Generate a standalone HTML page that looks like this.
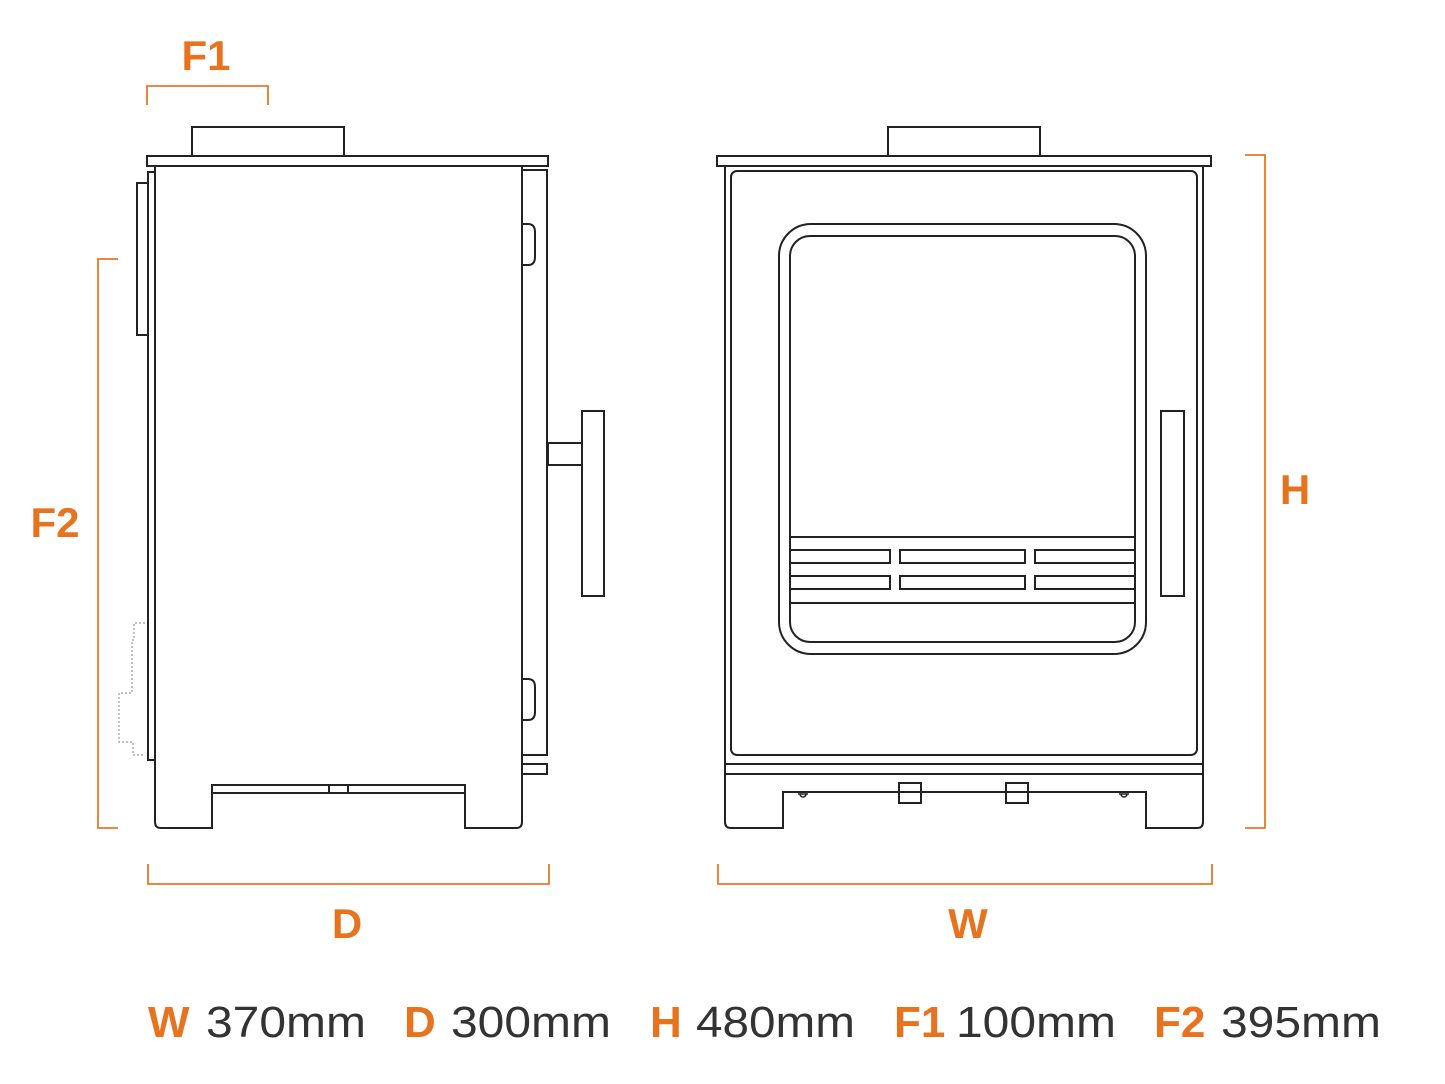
<!DOCTYPE html>
<html><head><style>body{margin:0;background:#fff}svg{display:block}</style></head><body>
<svg width="1445" height="1084" viewBox="0 0 1445 1084" xmlns="http://www.w3.org/2000/svg" font-family="Liberation Sans, sans-serif">
<g fill="none" stroke="#222" stroke-width="2">
<!-- side view -->
<rect x="192" y="127" width="152" height="29"/>
<rect x="147" y="156" width="401" height="10"/>
<path d="M155 166 V822 Q155 828 161 828 H212 V793 H465 V828 H516 Q522 828 522 822 V166 Z"/>
<rect x="212" y="785" width="253" height="8"/>
<rect x="329" y="785" width="19" height="8"/>
<rect x="148" y="172" width="7" height="588"/>
<rect x="137" y="183" width="11" height="152"/>
<rect x="522" y="170" width="25" height="585"/>
<path d="M522 224 H528 Q535 224 535 232 V257 Q535 265 528 265 H522"/>
<path d="M522 679 H528 Q535 679 535 687 V712 Q535 720 528 720 H522"/>
<rect x="522" y="764" width="25" height="10"/>
<rect x="548" y="443" width="34" height="22"/>
<rect x="582" y="411" width="22" height="185"/>
<path d="M145 623 H134 V640 H132 V693 H119 V742 H133 V755 H145" stroke="#999" stroke-width="1.2" stroke-dasharray="2 2"/>
<!-- front view -->
<rect x="888" y="127" width="152" height="29"/>
<rect x="717" y="156" width="494" height="10"/>
<path d="M725 166 V822 Q725 828 731 828 H783 V792 H1146 V828 H1197 Q1203 828 1203 822 V166 Z"/>
<rect x="731" y="171" width="466" height="584" rx="6"/>
<line x1="725" y1="764" x2="1203" y2="764"/>
<line x1="725" y1="774" x2="1203" y2="774"/>
<rect x="899" y="783" width="22" height="20"/>
<rect x="1006" y="783" width="22" height="20"/>
<path d="M798 794 h10 M800 794 a3 3 0 0 0 6 0 M1119 794 h10 M1121 794 a3 3 0 0 0 6 0" stroke-width="1.5"/>
<rect x="779" y="224" width="367" height="430" rx="32"/>
<rect x="790" y="236" width="345" height="406" rx="20"/>
<line x1="790" y1="537" x2="1135" y2="537"/>
<line x1="790" y1="603" x2="1135" y2="603"/>
<path d="M790 550 H890 V563 H790 M1135 550 H1035 V563 H1135 M790 576 H890 V589 H790 M1135 576 H1035 V589 H1135"/>
<rect x="900" y="550" width="125" height="13"/>
<rect x="900" y="576" width="125" height="13"/>
<rect x="1161" y="411" width="23" height="185"/>
</g>
<g fill="none" stroke="#e8782a" stroke-width="1.8">
<path d="M147 105 V86 H268 V105"/>
<path d="M118 259 H98 V828 H118"/>
<path d="M148 864 V884 H549 V864"/>
<path d="M718 864 V884 H1212 V864"/>
<path d="M1245 155 H1265 V828 H1245"/>
</g>
<g fill="#e8731f" font-weight="bold" font-size="42" text-anchor="middle">
<text x="206" y="70">F1</text>
<text x="55" y="537">F2</text>
<text x="347" y="938">D</text>
<text x="968" y="938">W</text>
<text x="1295" y="504">H</text>
</g>
<g font-size="44">
<text x="148" y="1037" fill="#e8731f" font-weight="bold">W</text><text x="206" y="1037" fill="#333" textLength="160" lengthAdjust="spacingAndGlyphs">370mm</text>
<text x="404" y="1037" fill="#e8731f" font-weight="bold">D</text><text x="451" y="1037" fill="#333" textLength="160" lengthAdjust="spacingAndGlyphs">300mm</text>
<text x="650" y="1037" fill="#e8731f" font-weight="bold">H</text><text x="696" y="1037" fill="#333" textLength="159" lengthAdjust="spacingAndGlyphs">480mm</text>
<text x="894" y="1037" fill="#e8731f" font-weight="bold">F1</text><text x="956" y="1037" fill="#333" textLength="160" lengthAdjust="spacingAndGlyphs">100mm</text>
<text x="1154" y="1037" fill="#e8731f" font-weight="bold">F2</text><text x="1221" y="1037" fill="#333" textLength="160" lengthAdjust="spacingAndGlyphs">395mm</text>
</g>
</svg>
</body></html>
